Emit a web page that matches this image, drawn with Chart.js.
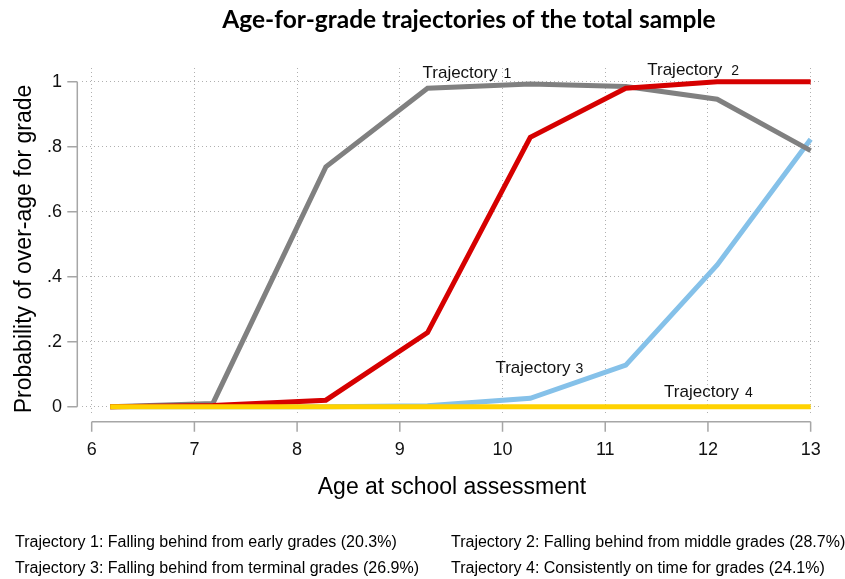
<!DOCTYPE html>
<html>
<head>
<meta charset="utf-8">
<script src="https://cdn.jsdelivr.net/npm/chart.js@4.4.1/dist/chart.umd.min.js"></script>
<style>
  body { margin: 0; background: #fff; }
  #wrap { width: 845px; height: 579px; }
</style>
</head>
<body>
<div id="wrap"><canvas id="ageChart" width="845" height="579"></canvas></div>
<script>
// mean age at each assessment wave
const ages = [6.18, 7.18, 8.28, 9.27, 10.27, 11.2, 12.09, 13.0];

// estimated probability of being over-age, per trajectory
const traj1 = [0, 0.01, 0.738, 0.98, 0.993, 0.985, 0.946, 0.788];
const traj2 = [0, 0.004, 0.02, 0.228, 0.829, 0.98, 1.0, 1.0];
const traj3 = [0, 0, 0, 0.003, 0.026, 0.128, 0.436, 0.823];
const traj4 = [0, 0, 0, 0, 0, 0, 0, 0];

const xTicks = [6, 7, 8, 9, 10, 11, 12, 13];
const yTicks = [0, 0.2, 0.4, 0.6, 0.8, 1];

// in-plot labels: [x, y] in data units, number shown smaller
const labelNames = ["Trajectory", "Trajectory", "Trajectory", "Trajectory"];
const labelNums = ["1", "2", "3", "4"];
const labelX = [9.221, 11.409, 9.931, 11.573];
const labelY = [1.011, 1.021, 0.103, 0.031];
const labelGap = [6, 9, 5, 6];

const footnotes = [
  "Trajectory 1: Falling behind from early grades (20.3%)",
  "Trajectory 2: Falling behind from middle grades (28.7%)",
  "Trajectory 3: Falling behind from terminal grades (26.9%)",
  "Trajectory 4: Consistently on time for grades (24.1%)"
];

const toPoints = vals => vals.map((v, i) => ({ x: ages[i], y: v }));
const SANS = "'Liberation Sans', Arial, sans-serif";

const decorations = {
  id: "decorations",
  afterDraw(chart) {
    const ctx = chart.ctx;
    const xs = chart.scales.x, ys = chart.scales.y;
    ctx.save();

    // offset axis lines (Stata style)
    ctx.strokeStyle = "#a6a6a6";
    ctx.lineWidth = 1.5;
    const axX = 77.3, axY = 421.7;
    ctx.beginPath();
    ctx.moveTo(axX, ys.getPixelForValue(1));
    ctx.lineTo(axX, ys.getPixelForValue(0));
    yTicks.forEach(v => {
      const p = ys.getPixelForValue(v);
      ctx.moveTo(axX, p);
      ctx.lineTo(axX - 10, p);
    });
    ctx.moveTo(xs.getPixelForValue(6), axY);
    ctx.lineTo(xs.getPixelForValue(13), axY);
    xTicks.forEach(v => {
      const p = xs.getPixelForValue(v);
      ctx.moveTo(p, axY);
      ctx.lineTo(p, axY + 10);
    });
    ctx.stroke();

    // title
    ctx.fillStyle = "#000";
    ctx.textAlign = "center";
    ctx.textBaseline = "middle";
    ctx.font = "bold 24.5px Lato, sans-serif";
    ctx.fillText("Age-for-grade trajectories of the total sample", 469, 20);

    // axis titles
    ctx.font = "23px " + SANS;
    ctx.fillText("Age at school assessment", 452, 488);
    ctx.save();
    ctx.translate(25, 249);
    ctx.rotate(-Math.PI / 2);
    ctx.fillText("Probability of over-age for grade", 0, 0);
    ctx.restore();

    // in-plot trajectory labels
    ctx.textAlign = "left";
    ctx.textBaseline = "alphabetic";
    ctx.fillStyle = "#111";
    labelNames.forEach((name, i) => {
      const px = xs.getPixelForValue(labelX[i]);
      const py = ys.getPixelForValue(labelY[i]);
      ctx.font = "17px " + SANS;
      ctx.fillText(name, px, py);
      const w = ctx.measureText(name).width;
      ctx.font = "14px " + SANS;
      ctx.fillText(labelNums[i], px + w + labelGap[i], py);
    });

    // footnotes
    ctx.fillStyle = "#000";
    ctx.font = "16px " + SANS;
    ctx.textBaseline = "middle";
    ctx.fillText(footnotes[0], 15, 543);
    ctx.fillText(footnotes[1], 451, 543);
    ctx.fillText(footnotes[2], 15, 569);
    ctx.fillText(footnotes[3], 451, 569);
    ctx.restore();
  }
};

const lineStyle = {
  pointRadius: 0,
  borderWidth: 5,
  borderJoinStyle: "miter",
  tension: 0,
  fill: false
};

new Chart(document.getElementById("ageChart"), {
  type: "line",
  data: {
    datasets: [
      { label: "Trajectory 4", data: toPoints(traj4), borderColor: "#ffd200", order: 0, ...lineStyle },
      { label: "Trajectory 2", data: toPoints(traj2), borderColor: "#d60000", order: 1, ...lineStyle },
      { label: "Trajectory 1", data: toPoints(traj1), borderColor: "#808080", order: 2, ...lineStyle },
      { label: "Trajectory 3", data: toPoints(traj3), borderColor: "#85c1e9", order: 3, ...lineStyle }
    ]
  },
  options: {
    responsive: false,
    animation: false,
    layout: { padding: { top: 68, right: 22, bottom: 0, left: 0 } },
    plugins: { legend: { display: false }, tooltip: { enabled: false }, title: { display: false } },
    scales: {
      x: {
        type: "linear",
        min: 5.9057,
        max: 13.1099,
        afterBuildTicks: s => { s.ticks = xTicks.map(v => ({ value: v })); },
        afterFit: s => { s.height = 164; },
        border: { display: false, dash: [1, 3] },
        grid: { color: "#b0b0b0", lineWidth: 1, drawTicks: false },
        ticks: { padding: 24, color: "#111", font: { size: 18, family: SANS }, maxRotation: 0 }
      },
      y: {
        type: "linear",
        min: -0.02554,
        max: 1.04215,
        afterBuildTicks: s => { s.ticks = yTicks.map(v => ({ value: v })); },
        afterFit: s => { s.width = 82; },
        border: { display: false, dash: [1, 3] },
        grid: { color: "#b0b0b0", lineWidth: 1, drawTicks: false },
        ticks: {
          padding: 20,
          color: "#111",
          font: { size: 18, family: SANS },
          callback: v => (v === 0 ? "0" : v === 1 ? "1" : v.toFixed(1).replace("0.", "."))
        }
      }
    }
  },
  plugins: [decorations]
});
</script>
</body>
</html>
